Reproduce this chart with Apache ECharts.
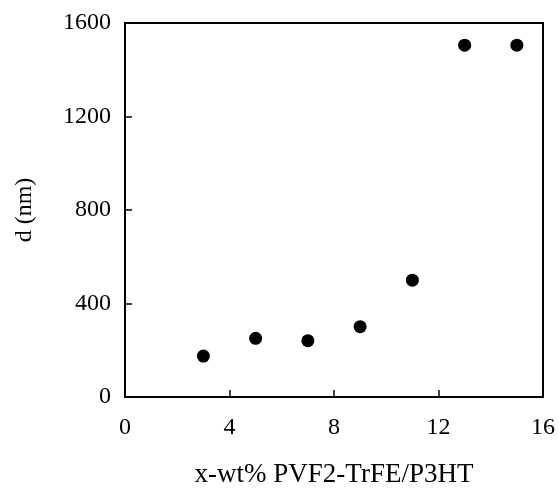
<!DOCTYPE html>
<html><head><meta charset="utf-8">
<script src="https://cdn.jsdelivr.net/npm/echarts@6/dist/echarts.min.js"></script>
<style>html,body{margin:0;padding:0;background:#fff}#c{width:559px;height:488px}</style>
</head><body><div id="c"></div>
<script>
var xValues = [3, 5, 7, 9, 11, 13, 15];
var dValues = [175, 251, 241, 301, 500, 1505, 1505];
var xName = 'x-wt% PVF2-TrFE/P3HT';
var yName = 'd (nm)';

var chart = echarts.init(document.getElementById('c'));
var font = 'Liberation Serif';
chart.setOption({
  animation: false,
  grid: {left: 125, right: 16, top: 23, bottom: 91, outerBoundsMode: 'none', containLabel: false, show: true, borderColor: '#000', borderWidth: 2, backgroundColor: 'transparent'},
  xAxis: {
    type: 'value', min: 0, max: 16, interval: 4,
    name: xName, nameLocation: 'middle', nameGap: 64,
    nameTextStyle: {fontFamily: font, fontSize: 27, color: '#000'},
    axisLine: {show: true, lineStyle: {color: '#000', width: 2}},
    axisTick: {show: true, inside: true, length: 7, lineStyle: {color: '#000', width: 1.5}},
    axisLabel: {fontFamily: font, fontSize: 24, color: '#000', margin: 19},
    splitLine: {show: false}
  },
  yAxis: {
    type: 'value', min: 0, max: 1600, interval: 400,
    name: yName, nameLocation: 'middle', nameGap: 88, nameRotate: 90,
    nameTextStyle: {fontFamily: font, fontSize: 24, color: '#000'},
    axisLine: {show: true, lineStyle: {color: '#000', width: 2}},
    axisTick: {show: true, inside: true, length: 7, lineStyle: {color: '#000', width: 1.5}},
    axisLabel: {fontFamily: font, fontSize: 24, color: '#000', margin: 14, formatter: function(v){ return String(v); }},
    splitLine: {show: false}
  },
  series: [{
    type: 'scatter',
    data: xValues.map(function(x, i){ return [x, dValues[i]]; }),
    symbol: 'circle', symbolSize: 13,
    itemStyle: {color: '#000', opacity: 1}
  }]
});
</script></body></html>
